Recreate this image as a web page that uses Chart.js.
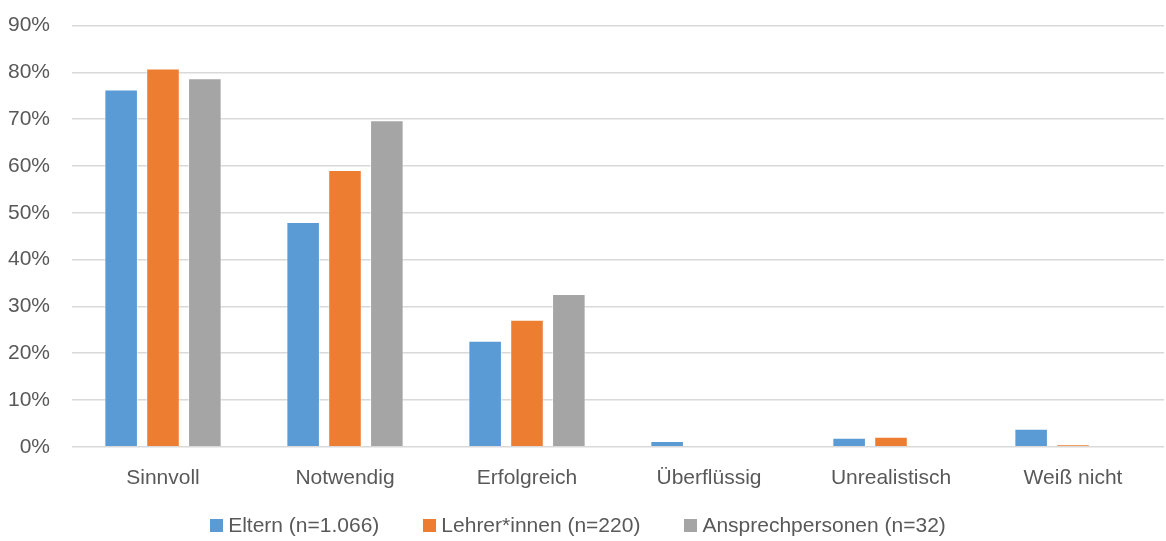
<!DOCTYPE html>
<html><head><meta charset="utf-8">
<script src="https://cdn.jsdelivr.net/npm/chart.js@4"></script>
<style>
html,body{margin:0;padding:0;background:#fff;overflow:hidden;width:1166px;height:541px;position:relative}
#wrap{position:absolute;left:0;top:-9px;width:1166px;height:529px}
#legend{position:absolute;left:-5px;top:512px;width:1166px;display:flex;justify-content:center;align-items:center;
  font-family:'Liberation Sans',Arial,sans-serif;font-size:21px;line-height:26px;color:#595959;white-space:nowrap}
#legend .item{display:flex;align-items:center;margin:0 22px}
#legend .box{width:13px;height:13px;margin-right:5px;display:inline-block}
</style>
</head><body><div id="wrap"><canvas id="c"></canvas></div><div id="legend"></div>
<script>
const categories = ["Sinnvoll","Notwendig","Erfolgreich","Überflüssig","Unrealistisch","Weiß nicht"];
const eltern = [76.3, 48.0, 22.6, 1.2, 1.9, 3.8];
const lehrer = [80.8, 59.1, 27.1, 0, 2.1, 0.5];
const ansprech = [78.7, 69.7, 32.6, 0, 0, 0];
const seriesNames = ["Eltern (n=1.066)","Lehrer*innen (n=220)","Ansprechpersonen (n=32)"];
const colors = ["#5b9bd5","#ed7d31","#a5a5a5"];
const FONT = "'Liberation Sans', Arial, sans-serif";
const chart = new Chart(document.getElementById('c'), {
  type: 'bar',
  data: {
    labels: categories,
    datasets: [eltern, lehrer, ansprech].map((d,i)=>({
      label: seriesNames[i], data: d, backgroundColor: colors[i],
      borderColor: '#ffffff', borderWidth: 0.75, borderSkipped: 'bottom',
      categoryPercentage: 0.69, barPercentage: 0.79
    }))
  },
  options: {
    responsive: true, maintainAspectRatio: false, animation: false,
    layout: { padding: { top: 0, right: 2, left: 7, bottom: 10 } },
    plugins: { tooltip: { enabled: false }, legend: { display: false } },
    scales: {
      x: {
        grid: { display: false, drawTicks: false },
        border: { display: false },
        ticks: { color: '#595959', font: { family: FONT, size: 21 }, padding: 19 }
      },
      y: {
        min: 0, max: 90,
        afterFit: s => { s.width = 65; },
        ticks: { stepSize: 10, color: '#595959', font: { family: FONT, size: 21 }, padding: 22, callback: v => v + '%' },
        grid: { color: '#d9d9d9', lineWidth: 1.5, drawTicks: false },
        border: { display: false }
      }
    }
  }
});
const leg = document.getElementById('legend');
chart.data.datasets.forEach(ds => {
  const it = document.createElement('span'); it.className = 'item';
  const b = document.createElement('span'); b.className = 'box'; b.style.background = ds.backgroundColor;
  const t = document.createElement('span'); t.textContent = ds.label;
  it.appendChild(b); it.appendChild(t); leg.appendChild(it);
});
</script></body></html>
